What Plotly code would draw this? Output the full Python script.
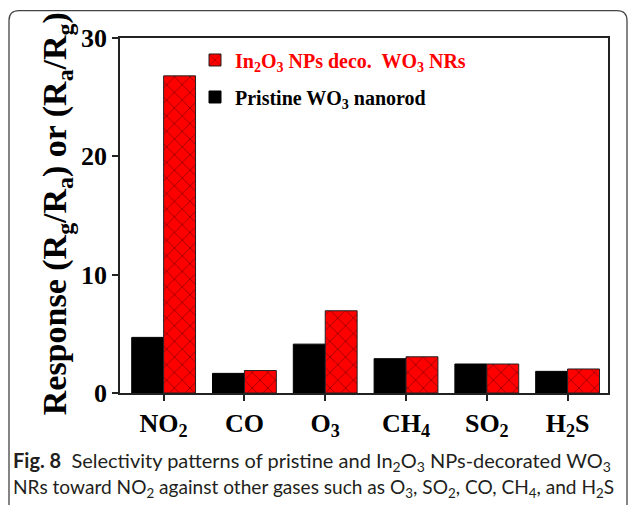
import plotly.graph_objects as go

# Gas sensing response of the two sensor types
gases = ["NO<sub>2</sub>", "CO", "O<sub>3</sub>", "CH<sub>4</sub>", "SO<sub>2</sub>", "H<sub>2</sub>S"]
pristine_wo3 = [4.7, 1.66, 4.13, 2.9, 2.45, 1.83]
in2o3_wo3 = [26.8, 1.9, 6.95, 3.06, 2.45, 2.03]

y_ticks = [0, 10, 20, 30]

name_pristine = "Pristine WO<sub>3</sub> nanorod"
name_in2o3 = ("<span style='color:#ff0000'>In<sub>2</sub>O<sub>3</sub> NPs deco.&nbsp; "
              "WO<sub>3</sub> NRs</span>")
caption_1 = ("<b>Fig. 8</b>&nbsp; Selectivity patterns of pristine and In<sub>2</sub>O<sub>3</sub> "
             "NPs-decorated WO<sub>3</sub>")
caption_2 = ("NRs toward NO<sub>2</sub> against other gases such as O<sub>3</sub>, SO<sub>2</sub>, "
             "CO, CH<sub>4</sub>, and H<sub>2</sub>S")

W, H = 629, 505
L, R, T, B = 120, 608, 37.5, 393

SERIF = "Liberation Serif, Times New Roman, serif"
SANS = "Lato, Open Sans, sans-serif"


def px(x):
    return (x - L) / (R - L)


def py(y):
    return (B - y) / (B - T)


xs = list(range(len(gases)))

fig = go.Figure()
fig.add_trace(go.Bar(
    x=xs, y=pristine_wo3, name=name_pristine, legendgroup="a", legendrank=2,
    marker=dict(color="black", line=dict(color="black", width=1)),
))
fig.add_trace(go.Bar(
    x=xs, y=in2o3_wo3, name=name_in2o3, legendgroup="b", legendrank=1,
    marker=dict(color="#ff0000", line=dict(color="#222", width=1),
                pattern=dict(shape="x", fgcolor="#000", bgcolor="#ff0000",
                             size=11, solidity=0.12)),
))

# outer rounded frame around figure and caption
x0, x1, y0, y1, r = 9, 627, 10, 520, 10
frame = (f"M {px(x0)},{py(y1)} L {px(x0)},{py(y0 + r)} "
         f"Q {px(x0)},{py(y0)} {px(x0 + r)},{py(y0)} "
         f"L {px(x1 - r)},{py(y0)} Q {px(x1)},{py(y0)} {px(x1)},{py(y0 + r)} "
         f"L {px(x1)},{py(y1)}")

fig.update_layout(
    width=W, height=H,
    margin=dict(l=L, r=W - R, t=T, b=H - B, pad=0),
    paper_bgcolor="white", plot_bgcolor="white",
    barmode="group", bargap=0.21, bargroupgap=0,
    showlegend=True,
    legend=dict(
        x=px(195), y=py(40), xanchor="left", yanchor="top",
        font=dict(family=SERIF, size=20, color="black", weight="bold"),
        traceorder="grouped", tracegroupgap=8,
        bgcolor="rgba(0,0,0,0)", itemwidth=30,
    ),
    font=dict(family=SERIF, color="black"),
    xaxis=dict(
        range=[-0.54, 5.5], tickmode="array", tickvals=xs, ticktext=gases,
        showline=True, linecolor="#222", linewidth=1.5, mirror=True,
        ticks="outside", ticklen=6, tickcolor="#222", tickwidth=1.5,
        tickfont=dict(family=SERIF, size=26, color="black", weight="bold"),
        showgrid=False, zeroline=False,
    ),
    yaxis=dict(
        range=[0, 30], tickmode="array", tickvals=y_ticks,
        showline=True, linecolor="#222", linewidth=1.5, mirror=True,
        ticks="outside", ticklen=6, tickcolor="#222", tickwidth=1.5,
        tickfont=dict(family=SERIF, size=26, color="black", weight="bold"),
        showgrid=False, zeroline=False,
    ),
    shapes=[dict(type="path", xref="paper", yref="paper", path=frame,
                 line=dict(color="#444", width=1.3))],
    annotations=[
        dict(text="Response (R<sub>g</sub>/R<sub>a</sub>) or (R<sub>a</sub>/R<sub>g</sub>)",
             xref="paper", yref="paper", x=px(57), y=py(214),
             xanchor="center", yanchor="middle", textangle=-90, showarrow=False,
             font=dict(family=SERIF, size=34, color="black", weight="bold")),
        dict(text=caption_1, xref="paper", yref="paper", x=px(11), y=py(462),
             xanchor="left", yanchor="middle", showarrow=False,
             font=dict(family=SANS, size=20, color="#231f20")),
        dict(text=caption_2, xref="paper", yref="paper", x=px(11), y=py(488),
             xanchor="left", yanchor="middle", showarrow=False,
             font=dict(family=SANS, size=19.1, color="#231f20")),
    ],
)

fig.write_html("out.html")
